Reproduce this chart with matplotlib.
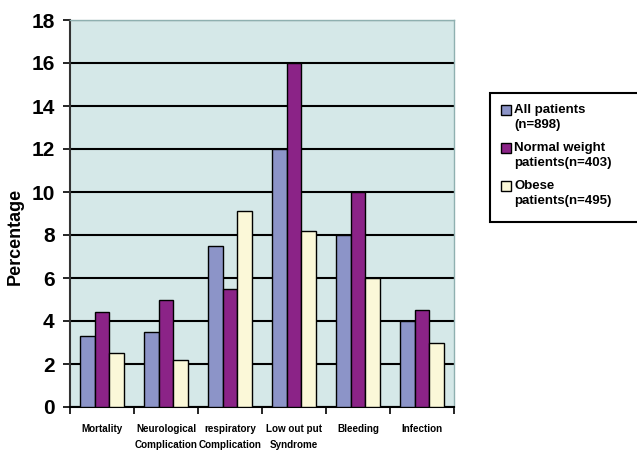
import matplotlib
matplotlib.use("Agg")
import matplotlib.pyplot as plt
import numpy as np
from matplotlib.patches import Rectangle
from matplotlib.legend_handler import HandlerPatch

categories = ["Mortality", "Neurological\nComplication", "respiratory\nComplication",
              "Low out put\nSyndrome", "Bleeding", "Infection"]
all_patients = [3.3, 3.5, 7.5, 12.0, 8.0, 4.0]
normal_weight = [4.4, 5.0, 5.5, 16.0, 10.0, 4.5]
obese = [2.5, 2.2, 9.1, 8.2, 6.0, 3.0]
series_labels = ["All patients\n(n=898)", "Normal weight\npatients(n=403)", "Obese\npatients(n=495)"]
colors = ["#8c94c8", "#8b2387", "#fbf8d8"]
yticks = list(range(0, 19, 2))

plt.rcParams["font.family"] = ["Liberation Sans", "DejaVu Sans"]
plt.rcParams["font.weight"] = "bold"

W, H = 637, 454
fig = plt.figure(figsize=(W / 100, H / 100), dpi=100)
ax = fig.add_axes([70 / W, 1 - 407 / H, (454 - 70) / W, (407 - 20) / H])
ax.set_facecolor("#d5e8e8")

x = np.arange(len(categories))
w = 0.23
containers = []
for i, (vals, c, lab) in enumerate(zip([all_patients, normal_weight, obese], colors, series_labels)):
    bc = ax.bar(x + (i - 1) * w, vals, width=w, color=c, edgecolor="black", linewidth=1.0,
                label=lab, zorder=3)
    containers.append(bc)

ax.set_xlim(-0.5, len(categories) - 0.5)
ax.set_ylim(0, 18)
ax.set_yticks(yticks)
ax.set_yticklabels([str(t) for t in yticks], fontsize=15, fontweight="bold")
ax.yaxis.grid(True, color="black", linewidth=1.5, zorder=1)
ax.set_axisbelow(True)

ax.set_xticks(x)
ax.set_xticklabels(categories, fontsize=7.1, fontweight="bold", linespacing=1.8)
ax.tick_params(axis="x", which="major", length=0, pad=12)
ax.set_xticks(np.arange(-0.5, len(categories), 1.0), minor=True)
ax.tick_params(axis="x", which="minor", length=5, width=1.2, direction="out", color="black")
ax.tick_params(axis="y", length=5, width=1.2, direction="out", pad=6)

for s in ["top", "right"]:
    ax.spines[s].set_color("#8fb0b0")
    ax.spines[s].set_linewidth(1.0)
ax.spines["left"].set_color("#333333")
ax.spines["left"].set_linewidth(1.5)
ax.spines["bottom"].set_color("black")
ax.spines["bottom"].set_linewidth(1.5)

ax.set_ylabel("Percentage", fontsize=13, fontweight="bold")
ax.yaxis.set_label_coords(-46 / 384, 0.44)


def top_square(legend, orig_handle, xdescent, ydescent, width, height, fontsize):
    s = 0.75 * fontsize
    return Rectangle((-xdescent, -ydescent + height - s + 0.1 * fontsize), s, s)


# legend box extending past the right edge
rect = Rectangle((490 / W, 1 - 222 / H), 160 / W, (222 - 93) / H, transform=fig.transFigure,
                 facecolor="white", edgecolor="black", linewidth=1.5, clip_on=False)
fig.patches.append(rect)
handles = [bc.patches[0] for bc in containers]
leg = fig.legend(handles, series_labels, loc="upper left", bbox_to_anchor=(492 / W, 1 - 95 / H),
                 frameon=False, prop={"weight": "bold", "size": 9.5}, handlelength=0.75,
                 handleheight=2.3, handletextpad=0.25, labelspacing=0.8, borderpad=0.2,
                 handler_map={h: HandlerPatch(patch_func=top_square) for h in handles})
for t in leg.get_texts():
    t.set_linespacing(1.35)

fig.savefig("out.png", dpi=100)
